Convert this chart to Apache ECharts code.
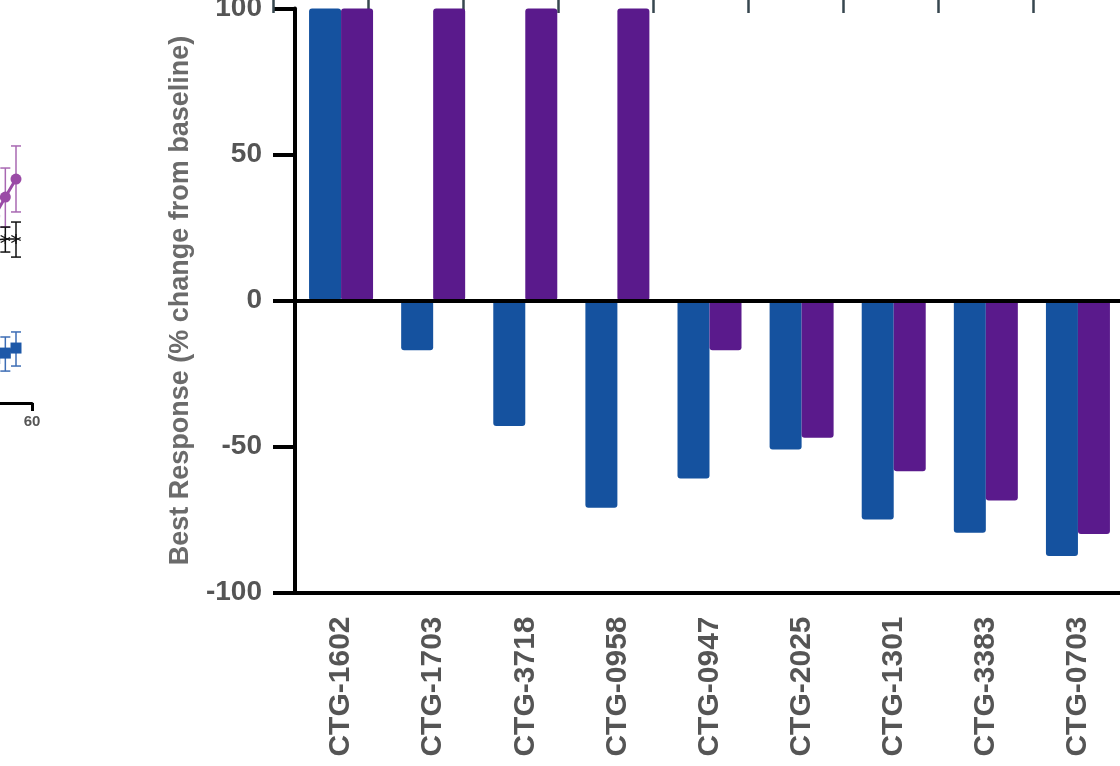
<!DOCTYPE html>
<html>
<head>
<meta charset="utf-8">
<script src="https://cdn.jsdelivr.net/npm/echarts@6/dist/echarts.min.js"></script>
<style>
  html, body { margin: 0; padding: 0; background: #fff; }
  #main { width: 1120px; height: 766px; }
</style>
</head>
<body>
<div id="main"></div>
<script>
// bar panel
var models = ["CTG-1602", "CTG-1703", "CTG-3718", "CTG-0958", "CTG-0947", "CTG-2025", "CTG-1301", "CTG-3383", "CTG-0703"];
var blueResp = [100, -17, -43, -71, -61, -51, -75, -79.5, -87.5];
var purpleResp = [100, 100, 100, 100, -17, -47, -58.5, -68.5, -80];

// cut-off growth curves on the left (day, mean)
var purpleCurve = [[46, 780], [50, 858], [54, 933]];
var blackCurve = [[46, 680], [50, 683], [54, 683]];
var blueCurve = [[46, 185], [50, 208], [54, 229]];
// error bars (day, low, high)
var purpleErr = [[50, 733, 979], [54, 796, 1071]];
var blackErr = [[50, 629, 733], [54, 608, 754]];
var blueErr = [[50, 133, 275], [54, 154, 296]];

var BLUE = "#15529f";
var PURPLE = "#5a1a8c";
var FONT = "Liberation Sans, Arial, sans-serif";

function errBars(color) {
  return function (params, api) {
    var x = api.value(0);
    var lo = api.coord([x, api.value(1)]);
    var hi = api.coord([x, api.value(2)]);
    var hw = 5;
    var st = { stroke: color, lineWidth: 1.5 };
    return {
      type: "group",
      children: [
        { type: "line", shape: { x1: lo[0], y1: lo[1], x2: hi[0], y2: hi[1] }, style: st },
        { type: "line", shape: { x1: lo[0] - hw, y1: lo[1], x2: lo[0] + hw, y2: lo[1] }, style: st },
        { type: "line", shape: { x1: hi[0] - hw, y1: hi[1], x2: hi[0] + hw, y2: hi[1] }, style: st },
      ],
    };
  };
}

var asterisk =
  "path://M4.4,0h1.2v10h-1.2z M0.4,2.0l0.6,-1.0l8.6,5l-0.6,1.0z M0.4,8.0l8.6,-5l0.6,1.0l-8.6,5z";

var myChart = echarts.init(document.getElementById("main"));
myChart.setOption({
  animation: false,
  grid: [
    { left: 295, top: 8.5, width: 829, height: 584, outerBoundsMode: "none", containLabel: false },
    { left: -128, top: 43, width: 160, height: 360, outerBoundsMode: "none", containLabel: false },
    { left: 273, top: -20, width: 950, height: 20, outerBoundsMode: "none", containLabel: false },
  ],
  xAxis: [
    {
      type: "category",
      gridIndex: 0,
      data: models,
      axisLine: { onZero: false, lineStyle: { color: "#000", width: 4 } },
      axisTick: { alignWithLabel: true, length: 16, lineStyle: { color: "#000", width: 4 } },
      axisLabel: {
        rotate: 90,
        margin: 24,
        color: "#555",
        fontSize: 30,
        fontWeight: "bold",
        fontFamily: FONT,
      },
      splitLine: { show: false },
    },
    {
      type: "value",
      gridIndex: 1,
      min: 0,
      max: 60,
      interval: 20,
      axisLine: { onZero: false, lineStyle: { color: "#000", width: 3 } },
      axisTick: { length: 8, lineStyle: { color: "#000", width: 3 } },
      axisLabel: { margin: 11, color: "#555", fontSize: 15, fontWeight: "bold", fontFamily: FONT },
      splitLine: { show: false },
    },
    {
      type: "value",
      gridIndex: 2,
      min: 0,
      max: 10,
      interval: 1,
      axisLine: { show: false },
      axisTick: { length: 13, lineStyle: { color: "#37474f", width: 2.5 } },
      axisLabel: { show: false },
      splitLine: { show: false },
    },
  ],
  yAxis: [
    {
      type: "value",
      gridIndex: 0,
      min: -100,
      max: 100,
      interval: 50,
      name: "Best Response (% change from baseline)",
      nameLocation: "middle",
      nameGap: 101,
      nameTextStyle: { color: "#6b6b6b", fontSize: 27, fontWeight: "bold", fontFamily: FONT },
      axisLine: { show: true, lineStyle: { color: "#000", width: 4 } },
      axisTick: { show: true, length: 22, lineStyle: { color: "#000", width: 4 } },
      axisLabel: { margin: 33, color: "#555", fontSize: 28, fontWeight: "bold", fontFamily: FONT },
      splitLine: { show: false },
    },
    {
      type: "value",
      gridIndex: 1,
      min: 0,
      max: 1500,
      axisLine: { show: false },
      axisTick: { show: false },
      axisLabel: { show: false },
      splitLine: { show: false },
    },
    { type: "value", gridIndex: 2, show: false },
  ],
  series: [
    {
      name: "blue",
      type: "bar",
      xAxisIndex: 0,
      yAxisIndex: 0,
      data: blueResp,
      barWidth: 32,
      barGap: "0%",
      itemStyle: { color: BLUE, borderRadius: 3 },
      markLine: {
        silent: true,
        symbol: "none",
        label: { show: false },
        lineStyle: { color: "#000", width: 4, type: "solid" },
        data: [{ yAxis: 0 }],
      },
    },
    {
      name: "purple",
      type: "bar",
      xAxisIndex: 0,
      yAxisIndex: 0,
      data: purpleResp,
      barWidth: 32,
      barGap: "0%",
      itemStyle: { color: PURPLE, borderRadius: 3 },
    },
    {
      type: "custom",
      xAxisIndex: 1,
      yAxisIndex: 1,
      data: purpleErr,
      renderItem: errBars("#a868b2"),
    },
    {
      type: "custom",
      xAxisIndex: 1,
      yAxisIndex: 1,
      data: blackErr,
      renderItem: errBars("#111"),
    },
    {
      type: "custom",
      xAxisIndex: 1,
      yAxisIndex: 1,
      data: blueErr,
      renderItem: errBars("#3d6db5"),
    },
    {
      type: "line",
      xAxisIndex: 1,
      yAxisIndex: 1,
      data: purpleCurve,
      symbol: "circle",
      symbolSize: 11,
      lineStyle: { color: "#9a4aa6", width: 3 },
      itemStyle: { color: "#9a4aa6" },
    },
    {
      type: "line",
      xAxisIndex: 1,
      yAxisIndex: 1,
      data: blackCurve,
      symbol: asterisk,
      symbolSize: 10,
      lineStyle: { color: "#111", width: 1.5 },
      itemStyle: { color: "#111" },
    },
    {
      type: "line",
      xAxisIndex: 1,
      yAxisIndex: 1,
      data: blueCurve,
      symbol: "rect",
      symbolSize: 11,
      lineStyle: { color: "#1d58a8", width: 3 },
      itemStyle: { color: "#1d58a8" },
    },
    {
      type: "scatter",
      xAxisIndex: 2,
      yAxisIndex: 2,
      data: [],
    },
  ],
});
</script>
</body>
</html>
